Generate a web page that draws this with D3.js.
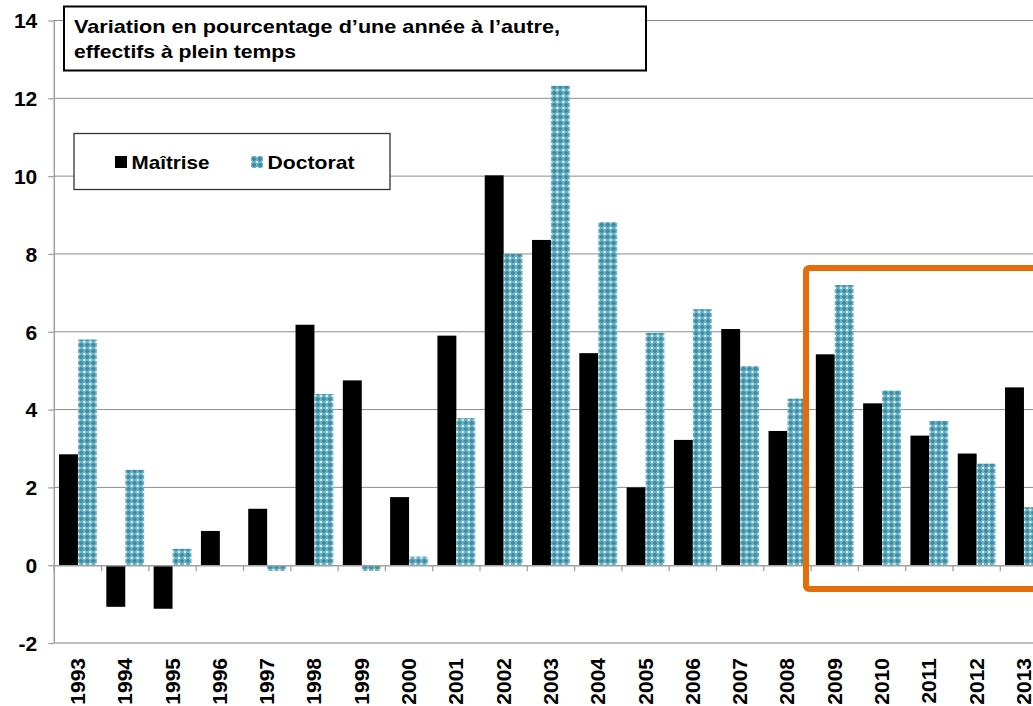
<!DOCTYPE html>
<html>
<head>
<meta charset="utf-8">
<title>Variation effectifs</title>
<script src="https://d3js.org/d3.v7.min.js"></script>
<style>
  body { margin: 0; background: #fff; }
  svg text { font-family: "Liberation Sans", Arial, sans-serif; font-weight: bold; fill: #000; }
</style>
</head>
<body>
<div id="chart"></div>
<script>
// years and the two series (% change from previous year)
const years = ["1993","1994","1995","1996","1997","1998","1999","2000","2001","2002","2003",
               "2004","2005","2006","2007","2008","2009","2010","2011","2012","2013"];
const maitrise = [2.85,-1.07,-1.12,0.88,1.45,6.18,4.75,1.75,5.9,10.02,8.36,
                  5.45,2.0,3.22,6.07,3.45,5.42,4.16,3.33,2.87,4.57];
const doctorat = [5.8,2.45,0.42,0,-0.15,4.4,-0.15,0.22,3.78,8.0,12.32,
                  8.82,5.97,6.58,5.12,4.28,7.2,4.49,3.71,2.61,1.49];
const seriesNames = ["Maîtrise","Doctorat"];
const yTicks = [-2,0,2,4,6,8,10,12,14];

const W = 1033, H = 706;
const svg = d3.select("#chart").append("svg").attr("width", W).attr("height", H);

// teal dotted fill like the excel pattern
const defs = svg.append("defs");
const pat = defs.append("pattern").attr("id","dots").attr("patternUnits","userSpaceOnUse")
  .attr("width",6).attr("height",6);
pat.append("rect").attr("width",6).attr("height",6).attr("fill","#6fb3c4");
pat.append("rect").attr("x",2).attr("y",1).attr("width",2).attr("height",4).attr("fill","#3a8da4");
pat.append("rect").attr("x",1).attr("y",2).attr("width",4).attr("height",2).attr("fill","#3a8da4");
pat.append("rect").attr("x",0).attr("y",0).attr("width",1).attr("height",1).attr("fill","#eef7f9");
pat.append("rect").attr("x",5).attr("y",5).attr("width",1).attr("height",1).attr("fill","#d6ebf0");
pat.append("rect").attr("x",5).attr("y",0).attr("width",1).attr("height",1).attr("fill","#d6ebf0");
pat.append("rect").attr("x",0).attr("y",5).attr("width",1).attr("height",1).attr("fill","#eef7f9");

const left = 54.3, right = 1047.6;
const x0 = d3.scaleBand().domain(years).range([left, right]).padding(0);
const x1 = d3.scaleBand().domain(seriesNames).range([x0.bandwidth()*0.1, x0.bandwidth()*0.9]);
const y = d3.scaleLinear().domain([-2, 14]).range([643, 20.5]);
const colors = { "Maîtrise": "#000", "Doctorat": "url(#dots)" };

// gridlines
svg.append("g").selectAll("line").data(yTicks.filter(d => d !== 0)).join("line")
  .attr("x1", left).attr("x2", W).attr("y1", d => y(d)).attr("y2", d => y(d))
  .attr("stroke", d => d === -2 ? "#a8a8a8" : "#8c8c8c").attr("stroke-width", d => d === -2 ? 1.5 : 1);

// y axis
const yAxis = d3.axisLeft(y).tickValues(yTicks).tickSize(6).tickPadding(11).tickFormat(d => String(d));
const gy = svg.append("g").attr("transform", `translate(${left},0)`).call(yAxis);
gy.select(".domain").attr("stroke", "#a0a0a0").attr("stroke-width", 1.5).attr("d", `M0,${y(14)}V${y(-2)}`);
gy.selectAll(".tick line").attr("stroke", "#a0a0a0").attr("stroke-width", 1.3);
gy.selectAll(".tick text").style("font-size", "21px").attr("dy", "0.35em");

// bars
const data = years.map((yr, i) => ({ year: yr, vals: [
  { key: "Maîtrise", v: maitrise[i] }, { key: "Doctorat", v: doctorat[i] } ] }));
svg.append("g").selectAll("g").data(data).join("g")
  .attr("transform", d => `translate(${x0(d.year)},0)`)
  .selectAll("rect").data(d => d.vals.filter(o => o.v !== 0)).join("rect")
  .attr("x", o => x1(o.key)).attr("width", x1.bandwidth())
  .attr("y", o => y(Math.max(0, o.v))).attr("height", o => Math.abs(y(o.v) - y(0)))
  .attr("fill", o => colors[o.key]);

// zero axis with category ticks
const xAxis = d3.axisBottom(x0).tickValues([]).tickSizeOuter(0);
const gx = svg.append("g").attr("transform", `translate(0,${y(0)})`).call(xAxis);
gx.select(".domain").attr("stroke", "#a0a0a0").attr("stroke-width", 1.5);
svg.append("g").selectAll("line").data(years.slice(1)).join("line")
  .attr("x1", d => x0(d)).attr("x2", d => x0(d))
  .attr("y1", y(0)).attr("y2", y(0) + 6).attr("stroke", "#a0a0a0").attr("stroke-width", 1.3);
svg.append("line").attr("x1", left).attr("x2", left).attr("y1", y(0)).attr("y2", y(0) + 6)
  .attr("stroke", "#a0a0a0").attr("stroke-width", 1.5);

// year labels, rotated
svg.append("g").selectAll("text").data(years).join("text")
  .attr("transform", d => `translate(${x0(d) + x0.bandwidth()/2 + 7},658) rotate(-90)`)
  .attr("text-anchor", "end").style("font-size", "21px").text(d => d);

// orange highlight frame
svg.append("rect").attr("x", 806).attr("y", 268).attr("width", 260).attr("height", 321)
  .attr("rx", 3).attr("fill", "none").attr("stroke", "#e46c0a").attr("stroke-width", 6);

// title box
svg.append("rect").attr("x", 64).attr("y", 6.5).attr("width", 582).attr("height", 64)
  .attr("fill", "#fff").attr("stroke", "#000").attr("stroke-width", 2);
const title = svg.append("text").style("font-size", "18.5px");
title.append("tspan").attr("x", 74).attr("y", 33)
  .attr("textLength", 486).attr("lengthAdjust", "spacingAndGlyphs")
  .text("Variation en pourcentage d\u2019une année à l\u2019autre,");
title.append("tspan").attr("x", 74).attr("y", 58)
  .attr("textLength", 222).attr("lengthAdjust", "spacingAndGlyphs")
  .text("effectifs à plein temps");

// legend
svg.append("rect").attr("x", 74).attr("y", 133.5).attr("width", 316).attr("height", 56)
  .attr("fill", "#fff").attr("stroke", "#333").attr("stroke-width", 1.3);
const legX = [115, 251];
const legW = [78, 87];
const leg = svg.append("g").selectAll("g").data(seriesNames).join("g")
  .attr("transform", (d, i) => `translate(${legX[i]},156)`);
leg.append("rect").attr("width", 12).attr("height", 12).attr("fill", d => colors[d]);
leg.append("text").attr("x", 16.5).attr("y", 12.5).style("font-size", "19px")
  .attr("textLength", (d, i) => legW[i]).attr("lengthAdjust", "spacingAndGlyphs").text(d => d);
</script>
</body>
</html>
